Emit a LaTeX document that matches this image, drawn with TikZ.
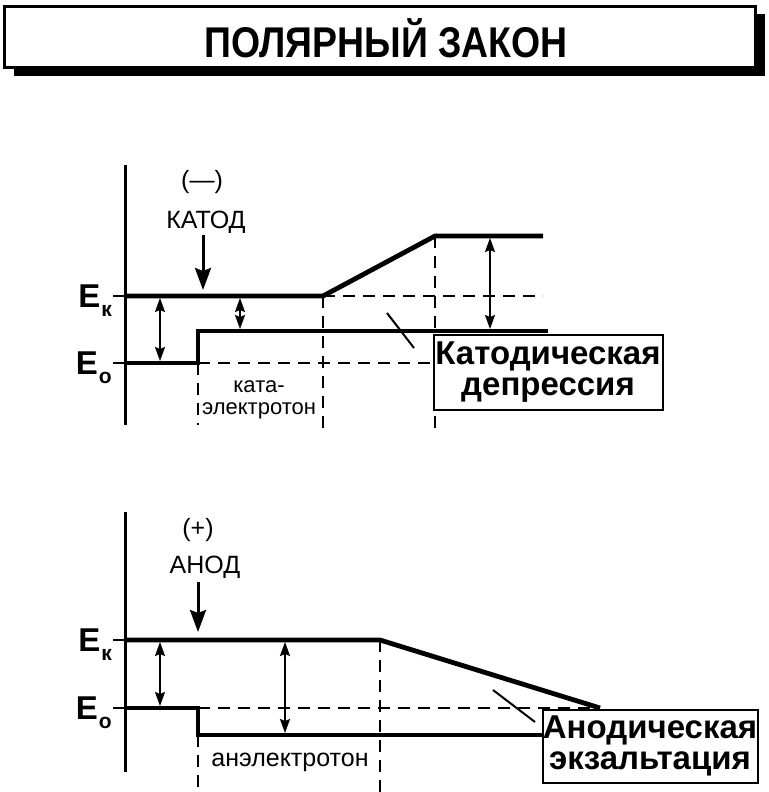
\documentclass[tikz,border=0pt]{standalone}
\usepackage{fontspec}
\setmainfont{Liberation Sans}
\usetikzlibrary{arrows.meta,positioning,shadows}

\begin{document}
\begin{tikzpicture}[x=1pt,y=-1pt,
  energy/.style={line width=4.8pt},
  guide/.style={line width=2pt,dash pattern=on 12pt off 8pt},
  yaxis/.style={line width=3pt},
  notch/.style={line width=2pt},
  gap/.style={{Stealth[length=14pt,width=10pt,inset=2pt]}-{Stealth[length=14pt,width=10pt,inset=2pt]},line width=1.8pt},
  probe/.style={-{Stealth[length=22pt,width=16pt,inset=3pt]},line width=3pt},
  leader/.style={line width=2pt},
  lbl/.style={font=\fontsize{25}{25}\selectfont,inner sep=0pt},
  sublbl/.style={font=\fontsize{22}{22}\selectfont,inner sep=0pt,align=center},
  note/.style={draw,line width=2pt,fill=white,inner sep=0pt,align=center,
    font=\bfseries\fontsize{33}{31}\selectfont},
  elbl/.style={anchor=base east,inner sep=0pt,font=\bfseries\fontsize{33}{33}\selectfont}]
  \useasboundingbox (0,0) rectangle (768,792);

  % title
  \node[draw,line width=3pt,fill=white,minimum width=751pt,minimum height=61pt,inner sep=0pt,
    drop shadow={shadow xshift=9pt,shadow yshift=-8pt,fill=black,opacity=1}] (titlebox) at (380,37) {};
  \node[font=\bfseries\fontsize{43}{43}\selectfont,xscale=0.87] (title) at (386,38) {ПОЛЯРНЫЙ ЗАКОН};

  % --- cathode ---
  \coordinate (kA) at (125,296);
  \coordinate (kB) at (323,296);
  \coordinate (kC) at (435,236);
  \coordinate (kD) at (543,236);
  \coordinate (kE) at (543,296);
  \coordinate (oA) at (125,363);
  \coordinate (oB) at (198,363);
  \coordinate (oC) at (198,331);
  \coordinate (oD) at (548,331);
  \draw[yaxis] (125,165) -- (125,425);
  \draw[notch] (113,296) -- (kA);
  \draw[notch] (113,363) -- (oA);
  \node[elbl] (ek1) at (112,307) {E\kern1pt\raisebox{-9pt}{\fontsize{21}{21}\selectfont к}};
  \node[elbl] (eo1) at (112,374) {E\kern1pt\raisebox{-9pt}{\fontsize{21}{21}\selectfont о}};

  \draw[guide] (kB) -- (kE);
  \draw[guide] (oB) -- (433,363);
  \draw[guide] (oB) -- (198,425);
  \draw[guide] (kB) -- (323,435);
  \draw[guide] (kC) -- (435,432);
  \draw[energy] (kA) -- (kB) -- (kC) -- (kD);
  \draw[energy] (oA) -- (oB) -- (oC) -- (oD);

  \node[lbl] (minus) at (202,182) {(—)};
  \node[lbl] (katod) at (206,222) {КАТОД};
  \draw[probe] (203,235) -- (203,290);

  \draw[gap] (160,298) -- (160,361);
  \draw[gap] (240,298) -- (240,329);
  \draw[gap] (490,238) -- (490,329);

  \node[sublbl] (kate) at (259,400) {ката-\\электротон};
  \draw[leader] (387,313) -- (414,348);
  \node[note,minimum width=229pt,minimum height=75pt] (depr) at (548,372)
    {Катодическая\\депрессия};

  % --- anode ---
  \coordinate (aA) at (125,640);
  \coordinate (aB) at (380,640);
  \coordinate (aC) at (600,708);
  \coordinate (bA) at (125,708);
  \coordinate (bB) at (198,708);
  \coordinate (bC) at (198,735);
  \coordinate (bD) at (545,735);
  \draw[yaxis] (125,512) -- (125,772);
  \draw[notch] (113,640) -- (aA);
  \draw[notch] (113,708) -- (bA);
  \node[elbl] (ek2) at (112,651) {E\kern1pt\raisebox{-9pt}{\fontsize{21}{21}\selectfont к}};
  \node[elbl] (eo2) at (112,719) {E\kern1pt\raisebox{-9pt}{\fontsize{21}{21}\selectfont о}};

  \draw[guide] (bB) -- (aC);
  \draw[guide] (bC) -- (198,792);
  \draw[guide] (aB) -- (380,792);
  \draw[energy] (aA) -- (aB) -- (aC);
  \draw[energy] (bA) -- (bB) -- (bC) -- (bD);

  \node[lbl] (plus) at (198,530) {(+)};
  \node[lbl] (anod) at (205,567) {АНОД};
  \draw[probe] (198,582) -- (198,632);

  \draw[gap] (160,642) -- (160,706);
  \draw[gap] (285,642) -- (285,733);

  \node[sublbl,font=\fontsize{25}{25}\selectfont] (ane) at (290,762) {анэлектротон};
  \draw[leader] (493,690) -- (535,722);
  \node[note,minimum width=215pt,minimum height=73pt] (exalt) at (650,746)
    {Анодическая\\экзальтация};
\end{tikzpicture}
\end{document}
